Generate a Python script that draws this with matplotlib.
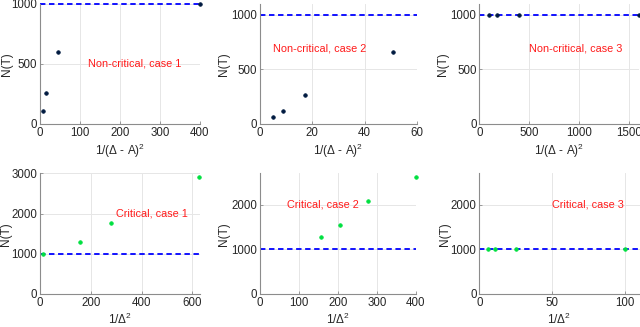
import matplotlib
matplotlib.use("Agg")
import matplotlib.pyplot as plt

plt.rcParams['font.family'] = ['Liberation Sans', 'DejaVu Sans']
plt.rcParams['mathtext.fontset'] = 'custom'
plt.rcParams['mathtext.rm'] = 'Liberation Sans'

# Data
nc1_x = [6.25, 16, 44.4, 400]
nc1_y = [111, 260, 600, 1000]
nc2_x = [5.1, 8.7, 17.3, 50.8]
nc2_y = [65, 122, 268, 660]
nc3_x = [100, 178, 400, 1600]
nc3_y = [1000, 1000, 1000, 1000]
c1_x = [11.1, 156.25, 277.8, 625]
c1_y = [1000, 1285, 1755, 2915]
c2_x = [156.25, 204.1, 277.8, 400]
c2_y = [1284, 1552, 2075, 2612]
c3_x = [6.25, 11.1, 25, 100]
c3_y = [1000, 1000, 1000, 1000]
threshold = 1000

labels = ["Non-critical, case 1", "Non-critical, case 2", "Non-critical, case 3",
          "Critical, case 1", "Critical, case 2", "Critical, case 3"]
xlabel_top = "1/(Δ - A)$^2$"
xlabel_bot = "1/Δ$^2$"

W, H = 640, 327
fig = plt.figure(figsize=(6.4, 3.27), dpi=100)

def ax_at(x0, x1, ytop, ybot):
    return fig.add_axes([x0 / W, 1 - ybot / H, (x1 - x0) / W, (ybot - ytop) / H])

panels = [
    dict(pos=(40, 200, 4, 124), x=nc1_x, y=nc1_y, xlim=(0, 400), ylim=(0, 1000),
         xt=[0, 100, 200, 300, 400], yt=[0, 500, 1000], col='#001a40', txt=labels[0], tp=(120, 500), xl=xlabel_top, ylx=7),
    dict(pos=(260, 417, 4, 124), x=nc2_x, y=nc2_y, xlim=(0, 60), ylim=(0, 1100),
         xt=[0, 20, 40, 60], yt=[0, 500, 1000], col='#001a40', txt=labels[1], tp=(5, 690), xl=xlabel_top, ylx=224),
    dict(pos=(479.3, 639.3, 4, 124), x=nc3_x, y=nc3_y, xlim=(0, 1600), ylim=(0, 1100),
         xt=[0, 500, 1000, 1500], yt=[0, 500, 1000], col='#001a40', txt=labels[2], tp=(500, 690), xl=xlabel_top, ylx=443),
    dict(pos=(40, 200, 173.3, 294), x=c1_x, y=c1_y, xlim=(0, 630), ylim=(0, 3000),
         xt=[0, 200, 400, 600], yt=[0, 1000, 2000, 3000], col='#00e040', txt=labels[3], tp=(300, 2000), xl=xlabel_bot, ylx=6),
    dict(pos=(260, 416, 173.3, 294), x=c2_x, y=c2_y, xlim=(0, 400), ylim=(0, 2700),
         xt=[0, 100, 200, 300, 400], yt=[0, 1000, 2000], col='#00e040', txt=labels[4], tp=(70, 2000), xl=xlabel_bot, ylx=224),
    dict(pos=(479.3, 639.5, 173.3, 294), x=c3_x, y=c3_y, xlim=(0, 110), ylim=(0, 2700),
         xt=[0, 50, 100], yt=[0, 1000, 2000], col='#00e040', txt=labels[5], tp=(50, 2000), xl=xlabel_bot, ylx=445),
]

for p in panels:
    ax = ax_at(*p['pos'])
    ax.axhline(threshold, color='#0000ff', linestyle=(0, (3, 2)), linewidth=1.3,
               zorder=2, clip_on=False)
    ax.plot(p['x'], p['y'], linestyle='none', marker='o', markersize=2.6,
            markerfacecolor=p['col'], markeredgecolor=p['col'], markeredgewidth=0.5,
            zorder=3, clip_on=False)
    ax.set_xlim(*p['xlim'])
    ax.set_ylim(*p['ylim'])
    ax.set_xticks(p['xt'])
    ax.set_yticks(p['yt'])
    ax.grid(True, color='#e6e6e6', linewidth=0.7)
    ax.set_axisbelow(True)
    for s in ['top', 'right']:
        ax.spines[s].set_visible(False)
    for s in ['left', 'bottom']:
        ax.spines[s].set_color('#8c8c8c')
        ax.spines[s].set_linewidth(0.8)
    ax.tick_params(direction='in', length=2, width=0.6, color='#8c8c8c',
                   labelsize=8.3, labelcolor='#262626', pad=2)
    ax.set_ylabel('N(T)', fontsize=8.5, color='#262626', va='center', ha='center')
    x0, x1 = p['pos'][0], p['pos'][1]
    ax.yaxis.set_label_coords((p['ylx'] - x0) / (x1 - x0), 0.5)
    ax.set_xlabel(p['xl'], fontsize=8.5, color='#262626', labelpad=2)
    ax.text(p['tp'][0], p['tp'][1], p['txt'], color='#ff1a1a', fontsize=7.8,
            ha='left', va='center')

fig.savefig('out.png', dpi=100)
